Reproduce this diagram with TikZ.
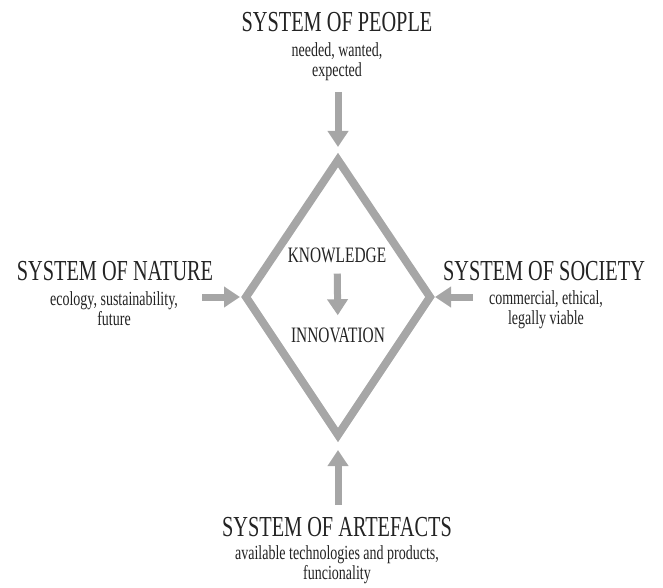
\documentclass[tikz,border=0pt]{standalone}
\usepackage{fontspec}
\newfontfamily\sysfont[FakeStretch=0.7]{Liberation Serif}
\usetikzlibrary{arrows.meta}
\definecolor{framegray}{RGB}{166,166,166}
\definecolor{textgray}{RGB}{35,35,35}

\begin{document}
\begin{tikzpicture}[x=1pt,y=-1pt,
  title/.style={font=\sysfont\fontsize{29}{29}\selectfont,text=textgray,inner sep=0,anchor=base},
  note/.style={font=\sysfont\fontsize{20}{20}\selectfont,text=textgray,inner sep=0,anchor=base,align=center},
  inner/.style={font=\sysfont\fontsize{22}{22}\selectfont,text=textgray,inner sep=0,anchor=base},
  bigarrow/.style={framegray,line width=7pt,-{Triangle[length=16pt,width=20pt]}}]

  \useasboundingbox (0,0) rectangle (663,588);

  % the diamond
  \coordinate (top) at (338,160);
  \coordinate (rgt) at (430,297);
  \coordinate (bot) at (338,435);
  \coordinate (lft) at (246,297);
  \draw[framegray,line width=8pt,miter limit=10] (top) -- (rgt) -- (bot) -- (lft) -- cycle;

  \node[inner] (know) at (337,262) {KNOWLEDGE};
  \node[inner] (inno) at (338,342) {INNOVATION};

  % the four systems (notes sit on the baseline of their last line)
  \node[title] (people) at (337,32) {SYSTEM OF PEOPLE};
  \node[note] (peoplenote) at (337,77) {needed, wanted,\\expected};
  \node[title] (nature) at (115,280) {SYSTEM OF NATURE};
  \node[note] (naturenote) at (114,325) {ecology, sustainability,\\future};
  \node[title] (society) at (544,280) {SYSTEM OF SOCIETY};
  \node[note] (societynote) at (546,324) {commercial, ethical,\\legally viable};
  \node[title] (artefacts) at (337,536) {SYSTEM OF ARTEFACTS};
  \node[note] (artefactsnote) at (337,579) {available technologies and products,\\funcionality};

  \coordinate (peopletail) at (338,92);
  \coordinate (naturetail) at (202,297);
  \coordinate (societytail) at (473,297);
  \coordinate (artefactstail) at (338,505);

  \draw[bigarrow,shorten >=13pt] (peopletail) -- (top);
  \draw[bigarrow,shorten >=6pt] (naturetail) -- (lft);
  \draw[bigarrow,shorten >=5pt] (societytail) -- (rgt);
  \draw[bigarrow,shorten >=15pt] (artefactstail) -- (bot);
  \draw[bigarrow,shorten <=11pt,shorten >=12pt] (know) -- (inno);

\end{tikzpicture}
\end{document}
